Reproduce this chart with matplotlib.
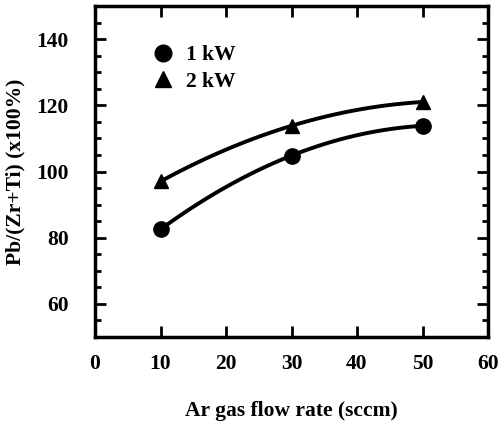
import numpy as np
import matplotlib.pyplot as plt
from matplotlib.ticker import MultipleLocator
from matplotlib.lines import Line2D

# Ar flow rate (sccm) and Pb/(Zr+Ti) ratio for each sputtering power
flow = [10, 30, 50]
ratio_1kw = [82.5, 104.8, 113.8]
ratio_2kw = [97.0, 113.8, 121.0]
labels = ['1 kW', '2 kW']

plt.rcParams['font.family'] = 'Liberation Serif'
plt.rcParams['font.weight'] = 'bold'

fig = plt.figure(figsize=(5.03, 4.21), dpi=100)
ax = fig.add_axes([95 / 503, 1 - 337 / 421, 393 / 503, 331 / 421])

# smooth curve through the three measured points
xs = np.linspace(flow[0], flow[-1], 100)
for y, m in zip([ratio_1kw, ratio_2kw], ['o', '^']):
    c = np.polyfit(flow, y, 2)
    ax.plot(xs, np.polyval(c, xs), color='black', lw=2.8)
    ax.plot(flow, y, m, color='black', ms=11 if m == 'o' else 10)

ax.set_xlim(0, 60)
ax.set_ylim(50, 150)
ax.xaxis.set_major_locator(MultipleLocator(10))
ax.yaxis.set_minor_locator(MultipleLocator(5))
ax.set_yticks([60, 80, 100, 120, 140])
ax.tick_params(which='both', direction='in', width=2, top=True, right=True,
               labelsize=15.5)
ax.tick_params(axis='y', pad=19)
ax.tick_params(axis='x', pad=12)
ax.tick_params(which='major', length=8)
ax.tick_params(which='minor', length=4)
for s in ax.spines.values():
    s.set_linewidth(2.5)

ax.set_xlabel('Ar gas flow rate (sccm)', fontsize=15.5, fontweight='bold', labelpad=20)
ax.set_ylabel('Pb/(Zr+Ti) (x100%)', fontsize=15.5, fontweight='bold', labelpad=8)

handles = [Line2D([], [], marker='o', ls='none', color='black', ms=12),
           Line2D([], [], marker='^', ls='none', color='black', ms=11)]
ax.legend(handles, labels, loc='upper left', bbox_to_anchor=(0.07, 0.94),
          frameon=False, handletextpad=0.05, labelspacing=0.3,
          prop={'weight': 'bold', 'size': 15.5})

fig.savefig('out.png', dpi=100)
